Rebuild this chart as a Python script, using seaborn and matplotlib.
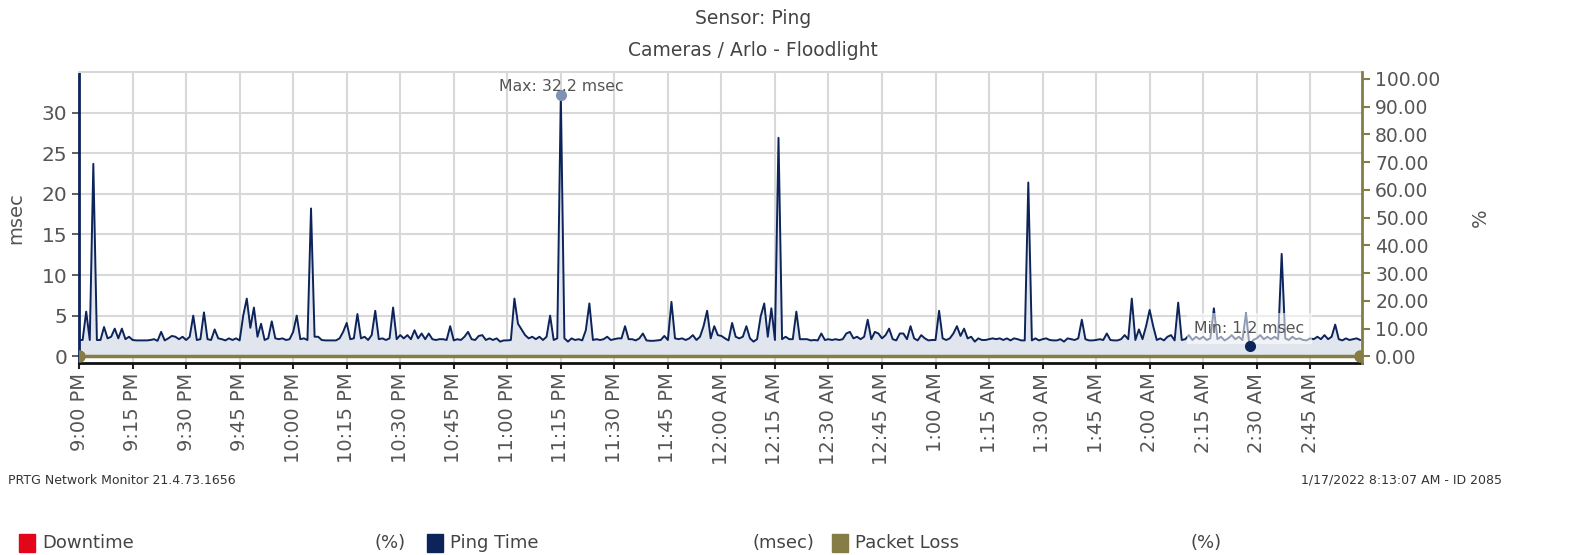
import numpy as np
import pandas as pd
import matplotlib
matplotlib.use('Agg')
import matplotlib.pyplot as plt
import matplotlib.dates as mdates
from matplotlib.patches import Rectangle
import seaborn as sns

# ping time per minute, 9:00 PM .. 2:59 AM (msec)
ping_ms = [
    2.0, 2.0, 5.5, 2.0, 23.7, 2.0, 2.0, 3.6, 2.2, 2.4,
    3.4, 2.2, 3.4, 2.1, 2.4, 2.0, 1.95, 1.95, 1.95, 1.95,
    2.0, 2.1, 1.9, 3.0, 1.95, 2.2, 2.5, 2.4, 2.1, 2.4,
    2.0, 2.4, 5.0, 2.0, 2.1, 5.4, 2.1, 2.0, 3.3, 2.2,
    2.1, 1.95, 2.2, 2.0, 2.2, 1.95, 5.0, 7.1, 3.5, 6.0,
    2.4, 4.0, 2.0, 2.2, 4.3, 2.2, 2.1, 2.2, 2.0, 2.1,
    3.0, 5.0, 2.1, 2.2, 2.0, 18.2, 2.4, 2.4, 2.0, 1.95,
    1.95, 1.95, 1.95, 2.2, 3.0, 4.1, 2.1, 2.2, 5.2, 2.2,
    2.4, 2.0, 2.6, 5.6, 2.1, 2.2, 2.0, 2.2, 6.0, 2.1,
    2.6, 2.2, 2.6, 2.1, 3.2, 2.2, 2.8, 2.1, 2.8, 2.1,
    2.0, 2.1, 2.1, 2.0, 3.7, 1.95, 2.1, 2.0, 2.4, 3.0,
    2.1, 2.0, 2.5, 2.6, 2.0, 2.2, 2.0, 2.2, 1.8, 1.95,
    1.95, 2.0, 7.1, 4.0, 3.3, 2.6, 2.2, 2.4, 2.1, 2.4,
    2.0, 2.4, 5.0, 2.0, 2.2, 32.2, 2.2, 1.8, 2.2, 2.0,
    2.1, 1.95, 3.2, 6.5, 2.0, 2.1, 2.0, 2.1, 2.4, 2.0,
    2.1, 2.2, 2.2, 3.7, 2.1, 2.1, 1.95, 2.2, 2.8, 1.95,
    1.9, 1.9, 1.95, 2.0, 2.5, 2.0, 6.7, 2.2, 2.1, 2.2,
    2.0, 2.2, 2.6, 2.0, 2.4, 3.7, 5.6, 2.2, 3.7, 2.6,
    2.5, 2.2, 1.95, 4.1, 2.4, 2.2, 2.4, 3.7, 2.2, 1.8,
    2.1, 4.9, 6.5, 2.4, 5.9, 2.0, 26.9, 2.1, 2.4, 2.1,
    2.1, 5.5, 2.1, 2.1, 2.1, 1.95, 2.0, 1.95, 2.8, 2.0,
    2.1, 2.0, 2.1, 2.0, 2.1, 2.8, 3.0, 2.2, 2.4, 2.1,
    2.4, 4.5, 2.1, 3.0, 2.8, 2.2, 2.6, 3.4, 2.1, 1.95,
    2.8, 2.8, 2.1, 3.7, 2.2, 1.95, 2.6, 2.2, 1.95, 2.0,
    2.0, 5.6, 2.2, 2.0, 2.2, 2.8, 3.7, 2.5, 3.4, 2.2,
    2.4, 1.8, 2.2, 2.0, 2.0, 2.1, 2.2, 2.1, 2.2, 2.0,
    2.2, 1.95, 2.2, 2.1, 1.95, 1.95, 21.4, 1.95, 2.2, 1.95,
    2.1, 2.2, 2.0, 1.95, 1.95, 2.1, 1.8, 2.2, 2.1, 2.0,
    2.2, 4.5, 2.1, 1.95, 1.95, 2.0, 2.1, 2.0, 2.8, 2.0,
    1.95, 1.95, 2.1, 2.6, 2.1, 7.1, 2.0, 3.3, 2.1, 3.7,
    5.7, 3.7, 2.0, 2.2, 1.95, 2.4, 2.6, 1.95, 6.6, 2.0,
    2.1, 2.6, 2.0, 2.4, 2.1, 2.4, 2.0, 2.2, 5.9, 2.1,
    2.4, 1.95, 2.2, 2.6, 2.1, 2.4, 2.0, 5.3, 1.2, 2.0,
    2.2, 2.6, 2.1, 2.4, 2.1, 2.4, 2.1, 12.6, 2.2, 2.0,
    2.4, 2.1, 2.2, 2.0, 1.95, 2.2, 2.1, 2.4, 2.1, 2.6,
    2.1, 2.4, 3.9, 2.1, 1.95, 2.2, 2.0, 2.1, 2.2, 2.0,
]
packet_loss = [0.0] * len(ping_ms)
start_time = '2022-01-16 21:00'
left_ticks = [0, 5, 10, 15, 20, 25, 30]
right_ticks = [0, 10, 20, 30, 40, 50, 60, 70, 80, 90, 100]
title_lines = ['Sensor: Ping', 'Cameras / Arlo - Floodlight']
footer_left = 'PRTG Network Monitor 21.4.73.1656'
footer_right = '1/17/2022 8:13:07 AM - ID 2085'
legend_names = ['Downtime', 'Ping Time', 'Packet Loss']
legend_units = ['(%)', '(msec)', '(%)']

NAVY = '#0c2459'
OLIVE = '#857d45'
RED = '#e3061a'
GRID = '#d8d8d8'
TXT = '#555555'

times = pd.date_range(start_time, periods=len(ping_ms), freq='1min')
df = pd.DataFrame({'time': times, 'ping': ping_ms, 'loss': packet_loss})

sns.set_style('white')
plt.rcParams['font.family'] = ['DejaVu Sans']

fig = plt.figure(figsize=(15.78, 5.55), dpi=100)
ax = fig.add_axes([0.0501, 0.346, 0.8130, 0.5234])

ax.fill_between(df['time'], 0, df['ping'], color='#e1e5ee', lw=0, zorder=1)
sns.lineplot(data=df, x='time', y='ping', ax=ax, color=NAVY, lw=1.4, zorder=3)

# max / min markers
imax = int(np.argmax(ping_ms))
imin = int(np.argmin(ping_ms))
ax.plot(times[imax], ping_ms[imax], 'o', color='#8292b4', ms=7, zorder=5)
ax.text(times[imax], ping_ms[imax] + 1.0, f'Max: {ping_ms[imax]} msec',
        ha='center', va='center', fontsize=11.3, color=TXT, zorder=6)
ax.text(times[imin], 3.4, f'Min: {ping_ms[imin]} msec',
        ha='center', va='center', fontsize=11.3, color=TXT, zorder=6,
        bbox=dict(facecolor='white', alpha=0.55, edgecolor='none',
                  boxstyle='square,pad=0.5'))
ax.plot(times[imin], ping_ms[imin], 'o', color=NAVY, ms=7, zorder=7)

t0 = times[0]
ax.set_xlim(t0, t0 + pd.Timedelta(minutes=359.5))
ax.set_ylim(-0.83, 34.95)
ax.set_yticks(left_ticks)
ax.xaxis.set_major_locator(mdates.MinuteLocator(byminute=[0, 15, 30, 45]))
ax.xaxis.set_major_formatter(mdates.DateFormatter('%-I:%M %p'))
ax.grid(True, color=GRID, lw=1.5)
ax.set_axisbelow(True)
ax.tick_params(axis='x', rotation=90, labelsize=14, labelcolor=TXT,
               direction='out', length=4, width=1.5, color='#222222', pad=3, bottom=True)
ax.tick_params(axis='y', labelsize=14.5, labelcolor=TXT, direction='out',
               length=5, width=1.2, color='#444444', left=True)
ax.set_xlabel('')
ax.set_ylabel('msec', fontsize=14, color=TXT)
ax.yaxis.set_label_coords(-0.042, 0.5)

ax.spines['left'].set_color(NAVY)
ax.spines['left'].set_linewidth(2)
ax.spines['bottom'].set_color('#111111')
ax.spines['bottom'].set_linewidth(2)
ax.spines['top'].set_color(GRID)
ax.spines['top'].set_linewidth(1.5)
ax.spines['right'].set_visible(False)

ax2 = ax.twinx()
ax2.plot(df['time'], df['loss'], color=OLIVE, lw=2.5, zorder=4)
ax2.plot([times[0], times[-1]], [packet_loss[0], packet_loss[-1]], 'o',
         color=OLIVE, ms=8, clip_on=True)
ax2.set_ylim(-2.35, 102.3)
ax2.set_yticks(right_ticks)
ax2.set_yticklabels([f'{v:.2f}' for v in right_ticks])
ax2.tick_params(axis='y', labelsize=13.5, labelcolor=TXT, direction='out',
                length=6, width=1.5, color=OLIVE, right=True)
ax2.set_ylabel('%', fontsize=14, color=TXT)
ax2.yaxis.set_label_coords(1.085, 0.5)
for s in ['left', 'top', 'bottom']:
    ax2.spines[s].set_visible(False)
ax2.spines['right'].set_color(OLIVE)
ax2.spines['right'].set_linewidth(2)
ax2.grid(False)

# titles
fig.text(753 / 1578, 1 - 18 / 555, title_lines[0], ha='center', va='center',
         fontsize=13.5, color='#444444')
fig.text(753 / 1578, 1 - 51 / 555, title_lines[1], ha='center', va='center',
         fontsize=13.5, color='#444444')

# footer
fig.text(8 / 1578, 1 - 480 / 555, footer_left, ha='left', va='center',
         fontsize=9, color='#333333')
fig.text(1502 / 1578, 1 - 480 / 555, footer_right, ha='right', va='center',
         fontsize=9, color='#333333')

# legend row
leg_colors = [RED, NAVY, OLIVE]
box_x = [19, 427, 832]
unit_x = [374, 753, 1191]
for name, unit, c, bx, ux in zip(legend_names, legend_units, leg_colors, box_x, unit_x):
    fig.patches.append(Rectangle((bx / 1578, 1 - 552 / 555), 16 / 1578, 18 / 555,
                                 transform=fig.transFigure, color=c, figure=fig))
    fig.text((bx + 23) / 1578, 1 - 543 / 555, name, ha='left', va='center',
             fontsize=13, color='#444444')
    fig.text(ux / 1578, 1 - 543 / 555, unit, ha='left', va='center',
             fontsize=13, color='#444444')

fig.savefig('out.png', dpi=100, facecolor='white')
